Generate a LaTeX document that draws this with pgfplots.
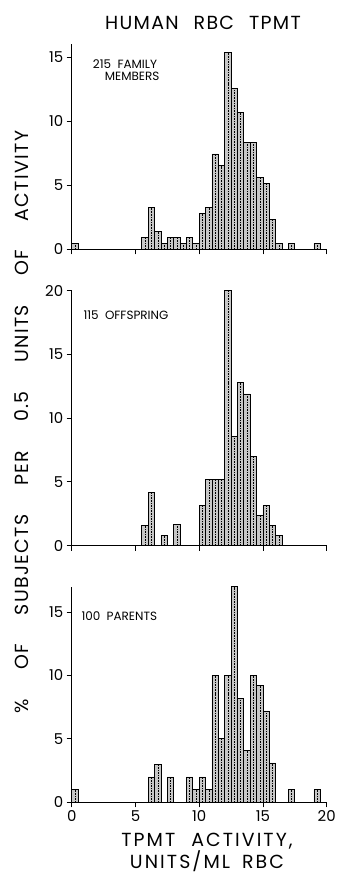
\documentclass[border=0pt]{standalone}
\usepackage{fontspec}
\setmainfont{Poppins}
\usepackage{pgfplots}
\usepackage{pgfplotstable}
\pgfplotsset{compat=1.18}

\pgfplotstableread{
x y
0.25 0.47
5.75 0.93
6.25 3.26
6.75 1.40
7.25 0.47
7.75 0.93
8.25 0.93
8.75 0.47
9.25 0.93
9.75 0.47
10.25 2.79
10.75 3.26
11.25 7.44
11.75 6.51
12.25 15.35
12.75 12.56
13.25 10.70
13.75 8.37
14.25 8.37
14.75 5.58
15.25 5.12
15.75 2.33
16.25 0.47
17.25 0.47
19.25 0.47
}\famtable

\pgfplotstableread{
x y
5.75 1.6
6.25 4.2
7.25 0.8
8.25 1.7
10.25 3.15
10.75 5.2
11.25 5.2
11.75 5.2
12.25 20.0
12.75 8.6
13.25 12.8
13.75 11.9
14.25 7.0
14.75 2.35
15.25 3.15
15.75 1.6
16.25 0.8
}\offtable

\pgfplotstableread{
x y
0.25 1
6.25 2
6.75 3
7.75 2
9.25 2
9.75 1
10.25 2
10.75 1
11.25 10
11.75 5
12.25 10
12.75 17
13.25 8.2
13.75 4.1
14.25 10
14.75 9.2
15.25 7.2
15.75 3.1
17.25 1
19.25 1
}\partable

\pgfplotsset{
  panel/.style={
    scale only axis, width=255bp, xmin=0, xmax=20, ymin=0,
    axis lines*=left,
    axis line style={line width=1.1pt},
    tick align=outside, major tick length=5bp,
    tick style={line width=0.9pt, black},
    xtick={0,5,10,15,20}, ytick distance=5,
    tick label style={font=\fontsize{15}{15}\selectfont},
    /pgf/number format/assume math mode=true,
    clip=false,
  },
  bars/.style={ybar, bar width=0.5, bar shift=0pt, fill=black!22, draw=black, line width=0.8pt},
  dash/.style={ycomb, line width=0.5pt, dash pattern=on 1.6pt off 1pt, black},
}
\newcommand\bigfont{\fontsize{19}{19}\selectfont\addfontfeature{LetterSpace=7}}
\newcommand\xfont{\fontsize{19}{19}\selectfont\addfontfeature{LetterSpace=11}}

\begin{document}
\begin{tikzpicture}[x=1bp,y=1bp]
\path[use as bounding box] (0,0) rectangle (337,874);

\begin{axis}[panel, at={(71.7bp,624.7bp)}, anchor=south west, height=205bp, ymax=16, xticklabels={}]
\addplot[bars] table {\famtable};
\addplot[dash] table {\famtable};
\end{axis}

\begin{axis}[panel, at={(71.7bp,328.3bp)}, anchor=south west, height=255bp, ymax=20, xticklabels={}]
\addplot[bars] table {\offtable};
\addplot[dash] table {\offtable};
\end{axis}

\begin{axis}[panel, at={(71.7bp,71.7bp)}, anchor=south west, height=215.6bp, ymax=17]
\addplot[bars] table {\partable};
\addplot[dash] table {\partable};
\end{axis}

\node[font=\fontsize{12}{13}\selectfont, align=center] at (125,804) {215\ \ FAMILY\\[-1pt]\hspace*{1.2em}MEMBERS};
\node[font=\fontsize{12}{13}\selectfont, anchor=west] at (80,559) {115\ \ OFFSPRING};
\node[font=\fontsize{12}{13}\selectfont, anchor=west] at (78,258) {100\ \ PARENTS};

\node[font=\bigfont, anchor=base, inner sep=0pt] at (203,844) {HUMAN\hspace{15bp}RBC\hspace{15bp}TPMT};
\node[font=\bigfont, rotate=90, anchor=base, inner sep=0pt] at (28,452) {\%\hspace{29bp}OF\hspace{29bp}SUBJECTS\hspace{29bp}PER\hspace{29bp}0.5\hspace{29bp}UNITS\hspace{29bp}OF\hspace{29bp}ACTIVITY};
\node[font=\xfont, anchor=base, inner sep=0pt] at (207,27) {TPMT\hspace{16bp}ACTIVITY,};
\node[font=\xfont, anchor=base, inner sep=0pt] at (207,5) {UNITS/ML\hspace{12bp}RBC};
\end{tikzpicture}
\end{document}
